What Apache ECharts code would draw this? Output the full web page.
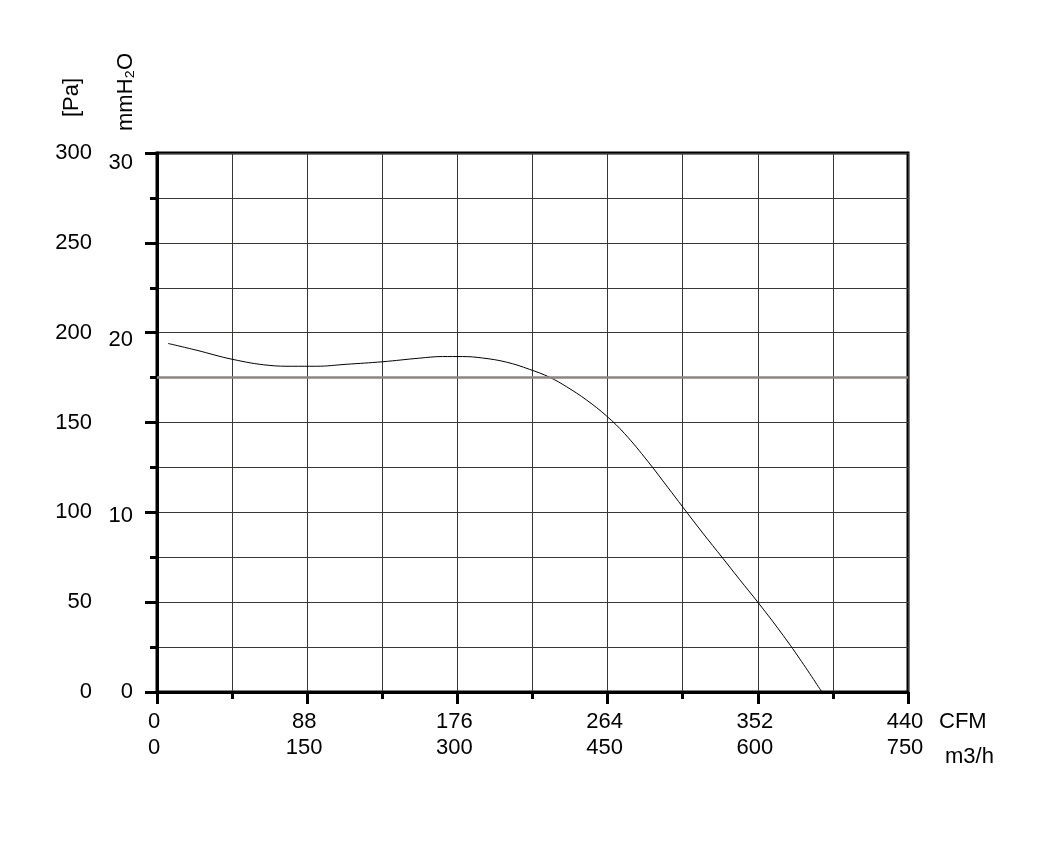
<!DOCTYPE html>
<html>
<head>
<meta charset="utf-8">
<script src="https://cdn.jsdelivr.net/npm/echarts@6/dist/echarts.min.js"></script>
<style>html,body{margin:0;padding:0;background:#fff}#c{width:1050px;height:851px}</style>
</head>
<body>
<div id="c"></div>
<script>
// Flow (m3/h) and static pressure (Pa)
const flowM3h =    [11, 39, 75, 112, 135, 159, 189, 225, 262, 285, 305, 325, 349, 372, 392, 409, 429, 449, 467, 490, 510, 525, 545, 565, 582, 600, 620, 640, 664];
const pressurePa = [194, 190.3, 185.2, 181.8, 181.3, 181.3, 182.4, 183.8, 185.8, 186.7, 186.7, 185.9, 183.6, 179.6, 175.2, 169.9, 162.5, 153.6, 143.8, 128.5, 114, 103, 88.5, 74.5, 62.5, 50, 35.5, 20, 0];
// Tick labels
const m3hTicks = [0, 150, 300, 450, 600, 750];
const cfmLabels = ['0', '88', '176', '264', '352', '440'];
const paTicks = [0, 50, 100, 150, 200, 250, 300];
const mmTicks = [0, 10, 20, 30];
const refLinePa = 175;

const font = '"Liberation Sans", Arial, sans-serif';
const chart = echarts.init(document.getElementById('c'));
const data = flowM3h.map((x, i) => [x, pressurePa[i]]);

chart.setOption({
  animation: false,
  backgroundColor: '#fff',
  grid: { left: 157, top: 153, right: 142, bottom: 159, show: true, borderColor: '#000', borderWidth: 3, backgroundColor: 'transparent' },
  xAxis: {
    type: 'value', min: 0, max: 750, interval: 150,
    axisLine: { show: true, onZero: false, lineStyle: { color: '#000', width: 3 } },
    axisTick: { show: true, length: 12, lineStyle: { color: '#000', width: 3 } },
    minorTick: { show: true, splitNumber: 2, length: 7, lineStyle: { color: '#000', width: 3 } },
    splitLine: { show: true, lineStyle: { color: '#3a3634', width: 1 } },
    minorSplitLine: { show: true, lineStyle: { color: '#3a3634', width: 1 } },
    axisLabel: {
      margin: 17, color: '#000', fontFamily: font, fontSize: 22, lineHeight: 26, padding: [0, 6, 0, 0],
      formatter: v => { const i = m3hTicks.indexOf(v); return i >= 0 ? cfmLabels[i] + '\n' + m3hTicks[i] : ''; }
    }
  },
  yAxis: [{
    type: 'value', min: 0, max: 300, interval: 50,
    axisLine: { show: true, lineStyle: { color: '#000', width: 3 } },
    axisTick: { show: true, length: 12, lineStyle: { color: '#000', width: 3 } },
    minorTick: { show: true, splitNumber: 2, length: 7, lineStyle: { color: '#000', width: 3 } },
    splitLine: { show: true, lineStyle: { color: '#3a3634', width: 1 } },
    minorSplitLine: { show: true, lineStyle: { color: '#3a3634', width: 1 } },
    axisLabel: { margin: 65, color: '#000', fontFamily: font, fontSize: 22, padding: [0, 0, 6, 0],
      formatter: v => paTicks.indexOf(v) >= 0 ? String(v) : '' }
  }, {
    type: 'value', position: 'left', min: 0, max: 300 / 9.80665, interval: 10,
    axisLine: { show: false }, axisTick: { show: false }, splitLine: { show: false },
    axisLabel: { margin: 24, color: '#000', fontFamily: font, fontSize: 22,
      formatter: v => { const r = Math.round(v); return (Math.abs(v - r) < 1e-6 && mmTicks.indexOf(r) >= 0) ? String(r) : ''; } }
  }],
  series: [{
    type: 'line', data: data, smooth: 0.4, showSymbol: false, symbol: 'none',
    lineStyle: { color: '#000', width: 1 },
    markLine: {
      silent: true, symbol: 'none', label: { show: false },
      lineStyle: { color: '#8a8682', width: 2.5, type: 'solid' },
      data: [{ yAxis: refLinePa }]
    }
  }],
  graphic: [
    { type: 'text', x: 61, y: 117, rotation: Math.PI / 2, style: { text: '[Pa]', font: '22px ' + font, fill: '#000', textAlign: 'left', textVerticalAlign: 'top' } },
    { type: 'text', x: 115, y: 131, rotation: Math.PI / 2, style: { text: 'mmH₂O', font: '22px ' + font, fill: '#000', textAlign: 'left', textVerticalAlign: 'top' } },
    { type: 'text', x: 939, y: 711, style: { text: 'CFM', font: '22px ' + font, fill: '#000' } },
    { type: 'text', x: 945, y: 746, style: { text: 'm3/h', font: '22px ' + font, fill: '#000' } }
  ]
});
</script>
</body>
</html>
